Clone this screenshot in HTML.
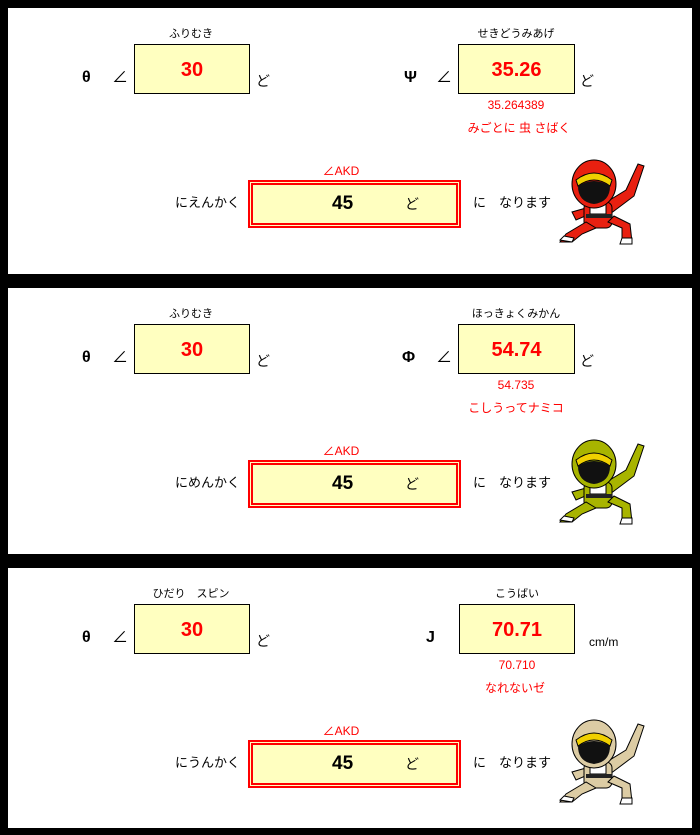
<!DOCTYPE html>
<html><head><meta charset="utf-8"><style>
*{margin:0;padding:0;box-sizing:border-box}
body{width:700px;height:835px;background:#000;position:relative;overflow:hidden;font-family:"Liberation Sans","Noto Sans CJK JP",sans-serif}
.p{position:absolute;left:8px;width:684px;background:#fff}
.t{position:absolute;white-space:nowrap;line-height:1}
.c{transform:translateX(-50%)}
.g{font-weight:bold}
.box{position:absolute;background:#ffffc0;border:1px solid #000}
.val{position:absolute;left:0;right:0;text-align:center;font-weight:bold;color:#f00;font-size:20px;top:14px}
.big{position:absolute;left:240px;top:172px;width:213px;height:48px;background:#ffffc0;border:5px double #f00}
.r{color:#f00}
</style></head><body>

<div class="p" style="top:8px;height:266px">
 <div class="t c" style="left:183px;top:21px;font-size:11px">ふりむき</div>
 <div class="t g" style="left:74px;top:62px;font-size:16px">θ</div>
 <div class="t" style="left:104px;top:62px;font-size:16px">∠</div>
 <div class="box" style="left:126px;top:36px;width:116px;height:50px"><div class="val">30</div></div>
 <div class="t" style="left:248px;top:66px;font-size:14px">ど</div>
 <div class="t c" style="left:508px;top:21px;font-size:11px">せきどうみあげ</div>
 <div class="t g" style="left:396px;top:62px;font-size:16px">Ψ</div>
 <div class="t" style="left:428px;top:62px;font-size:16px">∠</div>
 <div class="box" style="left:450px;top:36px;width:117px;height:50px"><div class="val">35.26</div></div>
 <div class="t" style="left:572px;top:66px;font-size:14px">ど</div>
 <div class="t c r" style="left:508px;top:91px;font-size:12px">35.264389</div>
 <div class="t c r" style="left:511px;top:114px;font-size:12px">みごとに 虫 さばく</div>
 <div class="t c r" style="left:333px;top:157px;font-size:12px">∠AKD</div>
 <div class="t" style="left:167px;top:188px;font-size:13px">にえんかく</div>
 <div class="big"><div class="t" style="left:79px;top:9px;font-size:19px;font-weight:bold">45</div><div class="t" style="left:152px;top:12px;font-size:14px">ど</div></div>
 <div class="t" style="left:465px;top:188px;font-size:13px">に　なります</div>
 <svg style="position:absolute;left:548px;top:148px" width="90" height="90" viewBox="0 0 90 90">
  <path d="M44 50 L70 34 L82 8 L88 10 L78 40 L54 58Z" fill="#e82010" stroke="#000"/>
  <path d="M30 52 L16 56 L20 64 L34 58Z" fill="#e82010" stroke="#000"/>
  <rect x="28" y="46" width="28" height="26" rx="6" fill="#e82010" stroke="#000"/>
  <rect x="34" y="48" width="16" height="10" fill="#fff" stroke="#000"/>
  <rect x="30" y="58" width="26" height="4" fill="#222"/>
  <path d="M30 66 L10 78 L4 86 L16 86 L26 78 L40 72Z" fill="#e82010" stroke="#000"/>
  <path d="M52 66 L66 72 L66 86 L76 86 L74 68 L58 60Z" fill="#e82010" stroke="#000"/>
  <path d="M4 84 L16 86 L18 82 L8 80Z M66 82 L76 82 L76 88 L64 88Z" fill="#fff" stroke="#000"/>
  <ellipse cx="38" cy="28" rx="22" ry="24" fill="#e82010" stroke="#000"/>
  <path d="M20 24 Q38 10 56 24 L54 30 Q38 18 22 30Z" fill="#f0d000" stroke="#000"/>
  <path d="M22 30 Q38 20 54 30 Q54 46 38 48 Q22 46 22 30Z" fill="#111"/>
 </svg>
</div>

<div class="p" style="top:288px;height:266px">
 <div class="t c" style="left:183px;top:21px;font-size:11px">ふりむき</div>
 <div class="t g" style="left:74px;top:62px;font-size:16px">θ</div>
 <div class="t" style="left:104px;top:62px;font-size:16px">∠</div>
 <div class="box" style="left:126px;top:36px;width:116px;height:50px"><div class="val">30</div></div>
 <div class="t" style="left:248px;top:66px;font-size:14px">ど</div>
 <div class="t c" style="left:508px;top:21px;font-size:11px">ほっきょくみかん</div>
 <div class="t g" style="left:394px;top:62px;font-size:16px">Φ</div>
 <div class="t" style="left:428px;top:62px;font-size:16px">∠</div>
 <div class="box" style="left:450px;top:36px;width:117px;height:50px"><div class="val">54.74</div></div>
 <div class="t" style="left:572px;top:66px;font-size:14px">ど</div>
 <div class="t c r" style="left:508px;top:91px;font-size:12px">54.735</div>
 <div class="t c r" style="left:508px;top:114px;font-size:12px">こしうってナミコ</div>
 <div class="t c r" style="left:333px;top:157px;font-size:12px">∠AKD</div>
 <div class="t" style="left:167px;top:188px;font-size:13px">にめんかく</div>
 <div class="big"><div class="t" style="left:79px;top:9px;font-size:19px;font-weight:bold">45</div><div class="t" style="left:152px;top:12px;font-size:14px">ど</div></div>
 <div class="t" style="left:465px;top:188px;font-size:13px">に　なります</div>
 <svg style="position:absolute;left:548px;top:148px" width="90" height="90" viewBox="0 0 90 90">
  <path d="M44 50 L70 34 L82 8 L88 10 L78 40 L54 58Z" fill="#a8b400" stroke="#000"/>
  <path d="M30 52 L16 56 L20 64 L34 58Z" fill="#a8b400" stroke="#000"/>
  <rect x="28" y="46" width="28" height="26" rx="6" fill="#a8b400" stroke="#000"/>
  <rect x="34" y="48" width="16" height="10" fill="#fff" stroke="#000"/>
  <rect x="30" y="58" width="26" height="4" fill="#222"/>
  <path d="M30 66 L10 78 L4 86 L16 86 L26 78 L40 72Z" fill="#a8b400" stroke="#000"/>
  <path d="M52 66 L66 72 L66 86 L76 86 L74 68 L58 60Z" fill="#a8b400" stroke="#000"/>
  <path d="M4 84 L16 86 L18 82 L8 80Z M66 82 L76 82 L76 88 L64 88Z" fill="#fff" stroke="#000"/>
  <ellipse cx="38" cy="28" rx="22" ry="24" fill="#a8b400" stroke="#000"/>
  <path d="M20 24 Q38 10 56 24 L54 30 Q38 18 22 30Z" fill="#f0d000" stroke="#000"/>
  <path d="M22 30 Q38 20 54 30 Q54 46 38 48 Q22 46 22 30Z" fill="#111"/>
 </svg>
</div>

<div class="p" style="top:568px;height:260px">
 <div class="t c" style="left:183px;top:21px;font-size:11px">ひだり　スピン</div>
 <div class="t g" style="left:74px;top:62px;font-size:16px">θ</div>
 <div class="t" style="left:104px;top:62px;font-size:16px">∠</div>
 <div class="box" style="left:126px;top:36px;width:116px;height:50px"><div class="val">30</div></div>
 <div class="t" style="left:248px;top:66px;font-size:14px">ど</div>
 <div class="t c" style="left:509px;top:21px;font-size:11px">こうばい</div>
 <div class="t g" style="left:418px;top:62px;font-size:16px">J</div>
 <div class="box" style="left:451px;top:36px;width:116px;height:50px"><div class="val">70.71</div></div>
 <div class="t" style="left:581px;top:68px;font-size:12px">cm/m</div>
 <div class="t c r" style="left:509px;top:91px;font-size:12px">70.710</div>
 <div class="t c r" style="left:507px;top:114px;font-size:12px">なれないゼ</div>
 <div class="t c r" style="left:333px;top:157px;font-size:12px">∠AKD</div>
 <div class="t" style="left:167px;top:188px;font-size:13px">にうんかく</div>
 <div class="big"><div class="t" style="left:79px;top:9px;font-size:19px;font-weight:bold">45</div><div class="t" style="left:152px;top:12px;font-size:14px">ど</div></div>
 <div class="t" style="left:465px;top:188px;font-size:13px">に　なります</div>
 <svg style="position:absolute;left:548px;top:148px" width="90" height="90" viewBox="0 0 90 90">
  <path d="M44 50 L70 34 L82 8 L88 10 L78 40 L54 58Z" fill="#dccca4" stroke="#000"/>
  <path d="M30 52 L16 56 L20 64 L34 58Z" fill="#dccca4" stroke="#000"/>
  <rect x="28" y="46" width="28" height="26" rx="6" fill="#dccca4" stroke="#000"/>
  <rect x="34" y="48" width="16" height="10" fill="#fff" stroke="#000"/>
  <rect x="30" y="58" width="26" height="4" fill="#222"/>
  <path d="M30 66 L10 78 L4 86 L16 86 L26 78 L40 72Z" fill="#dccca4" stroke="#000"/>
  <path d="M52 66 L66 72 L66 86 L76 86 L74 68 L58 60Z" fill="#dccca4" stroke="#000"/>
  <path d="M4 84 L16 86 L18 82 L8 80Z M66 82 L76 82 L76 88 L64 88Z" fill="#fff" stroke="#000"/>
  <ellipse cx="38" cy="28" rx="22" ry="24" fill="#dccca4" stroke="#000"/>
  <path d="M20 24 Q38 10 56 24 L54 30 Q38 18 22 30Z" fill="#f0d000" stroke="#000"/>
  <path d="M22 30 Q38 20 54 30 Q54 46 38 48 Q22 46 22 30Z" fill="#111"/>
 </svg>
</div>
</body></html>
